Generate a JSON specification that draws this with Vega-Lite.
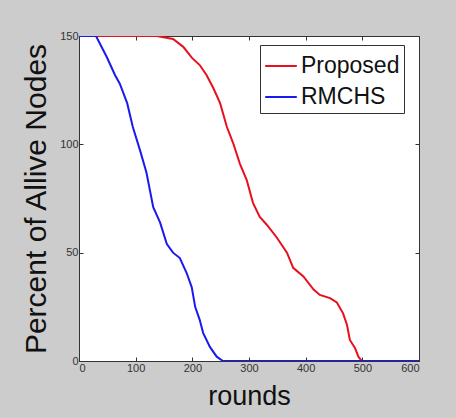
{
  "$schema": "https://vega.github.io/schema/vega-lite/v6.json",
  "width": 340,
  "height": 325,
  "autosize": {"type": "none"},
  "padding": {"left": 79, "top": 36, "right": 37, "bottom": 57},
  "background": "#cccccc",
  "config": {
    "view": {"fill": "white", "stroke": "#333333", "strokeWidth": 1},
    "axis": {
      "labelFont": "Liberation Sans",
      "labelFontSize": 11,
      "labelColor": "#333333",
      "tickColor": "#333333",
      "domainColor": "#333333",
      "tickSize": -4,
      "grid": false,
      "titleFont": "Liberation Sans",
      "titleFontWeight": "normal",
      "titleColor": "#111111"
    }
  },
  "data": {
    "values": [
      {"rounds": 0, "alive": 150, "series": "Proposed"},
      {"rounds": 137, "alive": 150, "series": "Proposed"},
      {"rounds": 166, "alive": 148.6, "series": "Proposed"},
      {"rounds": 184, "alive": 145, "series": "Proposed"},
      {"rounds": 199, "alive": 140, "series": "Proposed"},
      {"rounds": 213, "alive": 136.6, "series": "Proposed"},
      {"rounds": 225, "alive": 132, "series": "Proposed"},
      {"rounds": 237, "alive": 126, "series": "Proposed"},
      {"rounds": 249, "alive": 119, "series": "Proposed"},
      {"rounds": 261, "alive": 108, "series": "Proposed"},
      {"rounds": 272, "alive": 100.6, "series": "Proposed"},
      {"rounds": 284, "alive": 91, "series": "Proposed"},
      {"rounds": 296, "alive": 83.5, "series": "Proposed"},
      {"rounds": 307, "alive": 73, "series": "Proposed"},
      {"rounds": 319, "alive": 66.5, "series": "Proposed"},
      {"rounds": 331, "alive": 63, "series": "Proposed"},
      {"rounds": 349, "alive": 57, "series": "Proposed"},
      {"rounds": 367, "alive": 50, "series": "Proposed"},
      {"rounds": 378, "alive": 43, "series": "Proposed"},
      {"rounds": 396, "alive": 39, "series": "Proposed"},
      {"rounds": 414, "alive": 33, "series": "Proposed"},
      {"rounds": 425, "alive": 30.5, "series": "Proposed"},
      {"rounds": 443, "alive": 29, "series": "Proposed"},
      {"rounds": 455, "alive": 27, "series": "Proposed"},
      {"rounds": 466, "alive": 22, "series": "Proposed"},
      {"rounds": 473, "alive": 16.6, "series": "Proposed"},
      {"rounds": 478, "alive": 9.7, "series": "Proposed"},
      {"rounds": 487, "alive": 6, "series": "Proposed"},
      {"rounds": 493, "alive": 2, "series": "Proposed"},
      {"rounds": 499, "alive": 0, "series": "Proposed"},
      {"rounds": 0, "alive": 150, "series": "RMCHS"},
      {"rounds": 30, "alive": 150, "series": "RMCHS"},
      {"rounds": 49, "alive": 140.3, "series": "RMCHS"},
      {"rounds": 63.5, "alive": 132, "series": "RMCHS"},
      {"rounds": 72, "alive": 128, "series": "RMCHS"},
      {"rounds": 85, "alive": 119, "series": "RMCHS"},
      {"rounds": 95, "alive": 108, "series": "RMCHS"},
      {"rounds": 108, "alive": 97, "series": "RMCHS"},
      {"rounds": 119, "alive": 87, "series": "RMCHS"},
      {"rounds": 131, "alive": 71, "series": "RMCHS"},
      {"rounds": 143, "alive": 64, "series": "RMCHS"},
      {"rounds": 155, "alive": 54, "series": "RMCHS"},
      {"rounds": 166, "alive": 50, "series": "RMCHS"},
      {"rounds": 178, "alive": 47.5, "series": "RMCHS"},
      {"rounds": 190, "alive": 40.6, "series": "RMCHS"},
      {"rounds": 199, "alive": 34, "series": "RMCHS"},
      {"rounds": 205, "alive": 25, "series": "RMCHS"},
      {"rounds": 213, "alive": 19, "series": "RMCHS"},
      {"rounds": 219, "alive": 13, "series": "RMCHS"},
      {"rounds": 231, "alive": 6.5, "series": "RMCHS"},
      {"rounds": 243, "alive": 2, "series": "RMCHS"},
      {"rounds": 254, "alive": 0, "series": "RMCHS"},
      {"rounds": 600, "alive": 0, "series": "RMCHS"}
    ]
  },
  "layer": [
    {
      "mark": {"type": "line", "strokeWidth": 2, "clip": true},
      "encoding": {
        "x": {
          "field": "rounds", "type": "quantitative",
          "scale": {"domain": [0, 600], "nice": false, "zero": false},
          "axis": {"values": [0, 100, 200, 300, 400, 500, 600], "title": "rounds", "labelPadding": 5, "titlePadding": 10, "titleFontSize": 27}
        },
        "y": {
          "field": "alive", "type": "quantitative",
          "scale": {"domain": [0, 150], "nice": false},
          "axis": {"values": [0, 50, 100, 150], "title": "Percent of Allive Nodes", "labelPadding": 5, "titlePadding": 8, "titleFontSize": 30}
        },
        "color": {
          "field": "series", "type": "nominal",
          "scale": {"domain": ["Proposed", "RMCHS"], "range": ["#e8101c", "#1a1aee"]},
          "legend": {
            "title": null,
            "orient": "none",
            "legendX": 181,
            "legendY": 9,
            "symbolType": "stroke",
            "symbolSize": 1000,
            "symbolStrokeWidth": 2,
            "labelFont": "Liberation Sans",
            "labelFontSize": 23,
            "labelColor": "#111111",
            "labelOffset": 3,
            "rowPadding": 2,
            "strokeColor": "#333333",
            "fillColor": "white",
            "padding": 4,
            "cornerRadius": 0
          }
        },
        "order": {"field": "rounds"}
      }
    },
    {
      "mark": {"type": "point", "opacity": 0},
      "encoding": {
        "x": {
          "field": "rounds", "type": "quantitative",
          "axis": {"orient": "top", "values": [0, 100, 200, 300, 400, 500, 600], "labels": false, "title": null, "domain": false}
        },
        "y": {
          "field": "alive", "type": "quantitative",
          "axis": {"orient": "right", "values": [0, 50, 100, 150], "labels": false, "title": null, "domain": false}
        }
      }
    }
  ],
  "resolve": {"axis": {"x": "independent", "y": "independent"}}
}
